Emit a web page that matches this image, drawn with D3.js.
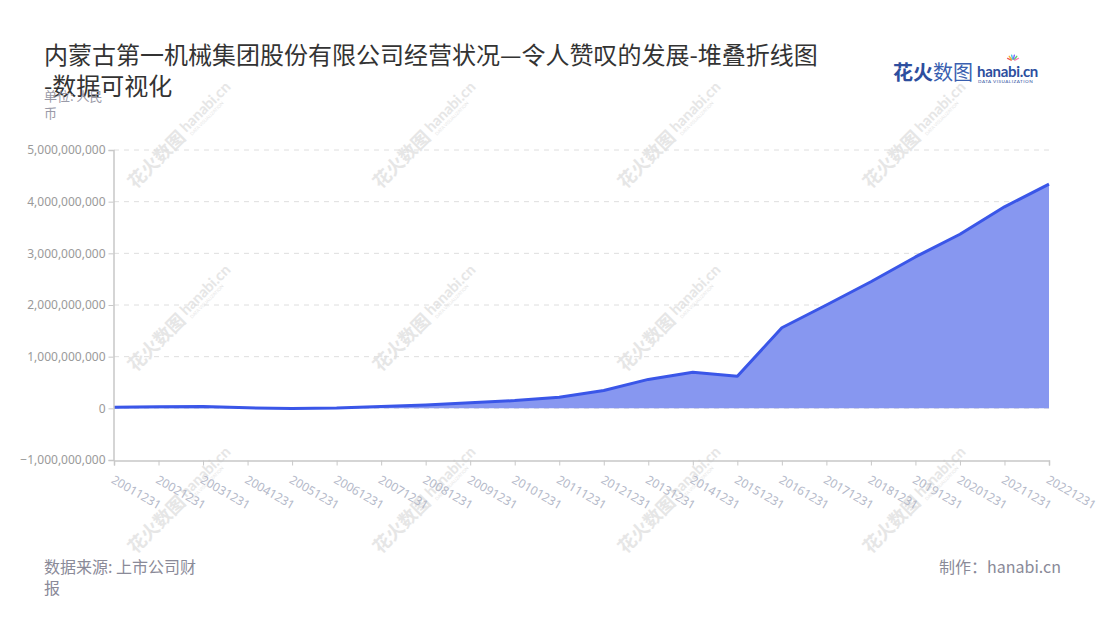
<!DOCTYPE html>
<html>
<head>
<meta charset="utf-8">
<script src="https://cdn.jsdelivr.net/npm/d3@7"></script>
<style>
  html, body { margin: 0; padding: 0; background: #fff; }
  svg { display: block; font-family: "Noto Sans CJK SC", "Noto Sans", sans-serif; }
</style>
</head>
<body>
<svg id="chart" width="1100" height="620"></svg>
<script>
// Reporting dates (year-end) and revenue series, in RMB
const dates = ["20011231","20021231","20031231","20041231","20051231","20061231","20071231",
  "20081231","20091231","20101231","20111231","20121231","20131231","20141231","20151231",
  "20161231","20171231","20181231","20191231","20201231","20211231","20221231"];
const values = [20000000, 30000000, 35000000, 10000000, -5000000, 5000000, 35000000,
  65000000, 110000000, 150000000, 215000000, 345000000, 560000000, 700000000, 620000000,
  1560000000, 2000000000, 2450000000, 2930000000, 3370000000, 3900000000, 4340000000];
const yTicks = [-1000000000, 0, 1000000000, 2000000000, 3000000000, 4000000000, 5000000000];

const titleLines = ["内蒙古第一机械集团股份有限公司经营状况—令人赞叹的发展-堆叠折线图", "-数据可视化"];
const unitLines = ["单位: 人民", "币"];
const sourceLines = ["数据来源: 上市公司财", "报"];
const creditText = "制作：hanabi.cn";

const svg = d3.select("#chart");
const plotLeft = 114, plotRight = 1049, plotTop = 150, plotBottom = 460;

const x = d3.scalePoint().domain(dates).range([plotLeft, plotRight]);
const y = d3.scaleLinear().domain([-1000000000, 5000000000]).range([plotBottom, plotTop]);

// faint background watermarks
const wm = svg.append("g").attr("class", "watermarks");
[180, 425, 670, 915].forEach(cx => {
  [135, 318, 500].forEach(cy => {
    const g = wm.append("g").attr("transform", `translate(${cx},${cy}) rotate(-45)`);
    g.append("text").attr("x", -70).attr("y", 7)
      .attr("font-size", 18).attr("font-weight", 700).attr("fill", "#e6e6e6")
      .text("花火数图");
    g.append("text").attr("x", 6).attr("y", 3)
      .attr("font-size", 15).attr("font-weight", 700).attr("fill", "#e6e6e6")
      .attr("font-family", "Lato, sans-serif")
      .text("hanabi.cn");
    g.append("text").attr("x", 8).attr("y", 9)
      .attr("font-size", 4.5).attr("fill", "#e6e6e6")
      .attr("font-family", "Lato, sans-serif")
      .text("DATA VISUALIZATION");
  });
});

// horizontal dashed grid lines
svg.append("g").selectAll("line")
  .data(yTicks.filter(v => v !== -1000000000))
  .join("line")
  .attr("x1", plotLeft).attr("x2", plotRight)
  .attr("y1", d => y(d)).attr("y2", d => y(d))
  .attr("stroke", "#dedede").attr("stroke-width", 1)
  .attr("stroke-dasharray", "5,5");

// area and line
const pts = dates.map((d, i) => ({ d, v: values[i] }));
const curve = d3.curveLinear;
svg.append("path").datum(pts)
  .attr("fill", "#8797f0")
  .attr("d", d3.area().x(p => x(p.d)).y0(y(0)).y1(p => y(p.v)).curve(curve));
svg.append("path").datum(pts)
  .attr("fill", "none").attr("stroke", "#3a56e8").attr("stroke-width", 3)
  .attr("stroke-linejoin", "round")
  .attr("d", d3.line().x(p => x(p.d)).y(p => y(p.v)).curve(curve));

// y axis
const yAxis = svg.append("g").attr("transform", `translate(${plotLeft - 0.5},0)`)
  .call(d3.axisLeft(y).tickValues(yTicks).tickFormat(d3.format(",")).tickSizeOuter(0).tickSize(5).tickPadding(3));
yAxis.select(".domain").attr("stroke", "#c8c8c8").attr("stroke-width", 1.5);
yAxis.selectAll(".tick line").attr("stroke", "#c8c8c8");
yAxis.selectAll(".tick text").attr("fill", "#9a9a9a").attr("font-size", 12)
  .attr("font-family", "'Noto Sans', sans-serif");

// x axis
const xAxis = svg.append("g").attr("transform", `translate(0,${plotBottom + 0.5})`)
  .call(d3.axisBottom(x).tickSizeOuter(0).tickSize(5));
xAxis.select(".domain").attr("stroke", "#c8c8c8").attr("stroke-width", 1.5);
xAxis.selectAll(".tick line").attr("stroke", "#c8c8c8");
xAxis.selectAll(".tick text")
  .attr("fill", "#b4b9c9").attr("font-size", 12)
  .attr("font-family", "'Noto Sans', sans-serif")
  .attr("text-anchor", "start")
  .attr("x", 0).attr("y", 0).attr("dy", "0.35em")
  .attr("transform", "translate(-2,18) rotate(30)");

// title
svg.append("text").attr("x", 44).attr("y", 64)
  .attr("font-size", 24).attr("fill", "#333")
  .selectAll("tspan").data(titleLines).join("tspan")
  .attr("x", 44).attr("dy", (d, i) => i === 0 ? 0 : 31).text(d => d);

// unit note
svg.append("text").attr("x", 44).attr("y", 101)
  .attr("font-size", 13).attr("fill", "#9a9aa8")
  .selectAll("tspan").data(unitLines).join("tspan")
  .attr("x", 44).attr("dy", (d, i) => i === 0 ? 0 : 17).text(d => d);

// footer
svg.append("text").attr("x", 44).attr("y", 573)
  .attr("font-size", 16).attr("fill", "#8a8a98")
  .selectAll("tspan").data(sourceLines).join("tspan")
  .attr("x", 44).attr("dy", (d, i) => i === 0 ? 0 : 21).text(d => d);
svg.append("text").attr("x", 1061).attr("y", 573).attr("text-anchor", "end")
  .attr("font-size", 16).attr("fill", "#8a8a98").text(creditText);

// brand mark
const logo = svg.append("g").attr("transform", "translate(893,80)");
logo.append("text").attr("x", 0).attr("y", 0)
  .attr("font-size", 20).attr("font-weight", 700).attr("fill", "#2d4e9e")
  .text("花火");
logo.append("text").attr("x", 40).attr("y", 0)
  .attr("font-size", 20).attr("fill", "#3a5fb0")
  .text("数图");
logo.append("text").attr("x", 84).attr("y", -3)
  .attr("font-size", 15).attr("font-weight", 700).attr("fill", "#2d4e9e")
  .attr("font-family", "Lato, sans-serif").attr("letter-spacing", -0.3)
  .text("hanabi.cn");
logo.append("text").attr("x", 85).attr("y", 3)
  .attr("font-size", 4.6).attr("fill", "#2d4e9e").attr("letter-spacing", 0.5)
  .attr("font-family", "Lato, sans-serif")
  .text("DATA VISUALIZATION");
const sparkColors = ["#f25c54", "#f7b32b", "#49c6e5", "#7b61ff", "#5ad06e", "#ff7eb6"];
sparkColors.forEach((c, i) => {
  const a = -Math.PI / 2 + (i - 2.5) * 0.45;
  logo.append("line")
    .attr("x1", 120 + Math.cos(a) * 2).attr("y1", -19 + Math.sin(a) * 2)
    .attr("x2", 120 + Math.cos(a) * 6).attr("y2", -19 + Math.sin(a) * 6)
    .attr("stroke", c).attr("stroke-width", 1.4).attr("stroke-linecap", "round");
});
</script>
</body>
</html>
